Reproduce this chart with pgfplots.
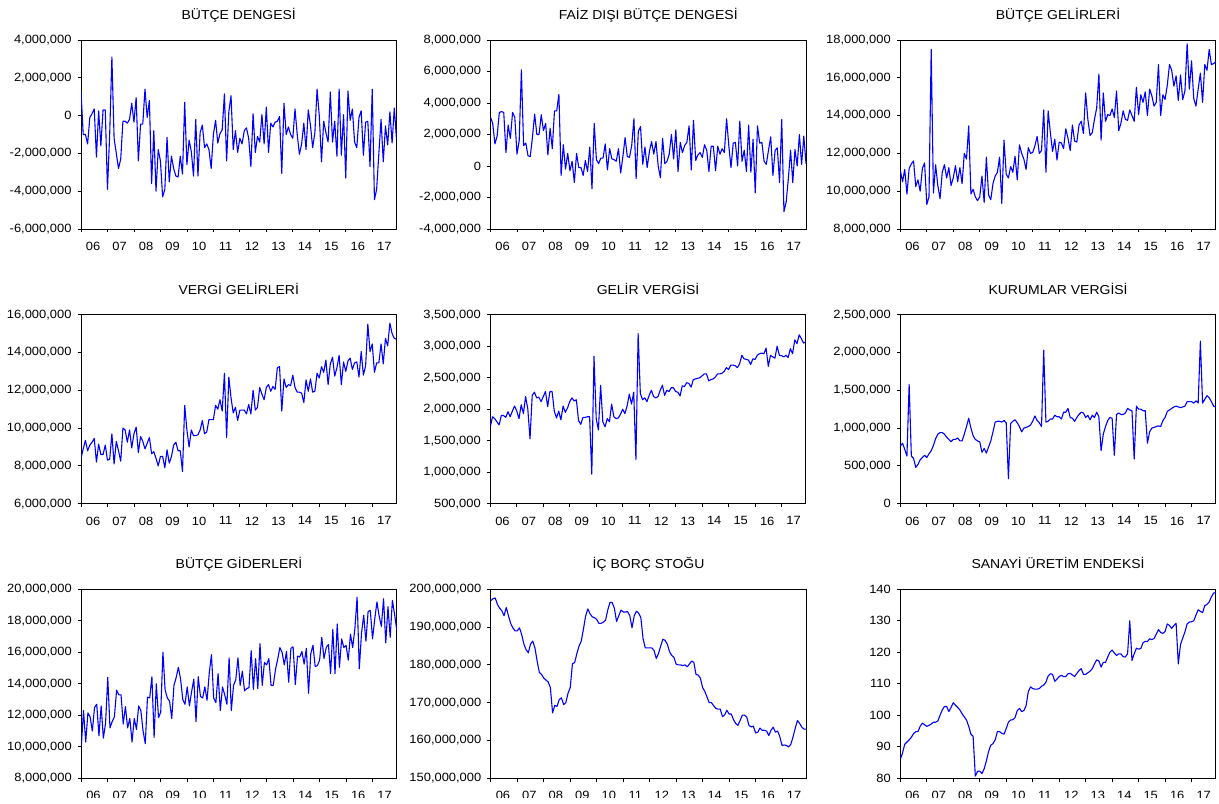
\documentclass[border=0pt]{standalone}
\usepackage{fontspec}
\setmainfont[FakeStretch=1.08]{Liberation Sans}
\usepackage{pgfplots}
\pgfplotsset{compat=1.18}
\pgfplotsset{
  ev/.style={
    scale only axis, width=315.5bp, height=189bp,
    anchor=south west,
    axis line style={line width=0.9bp, black},
    tick align=outside, tick pos=left,
    major tick length=3.5bp,
    every tick/.style={black, line width=0.8bp},
    xmin=0, xmax=143,
    xtick={0,12,24,36,48,60,72,84,96,108,120,132},
    xticklabels={},
    extra x ticks={5.5,17.5,29.5,41.5,53.5,65.5,77.5,89.5,101.5,113.5,125.5,137.5},
    extra x tick labels={06,07,08,09,10,11,12,13,14,15,16,17},
    extra x tick style={major tick length=0pt, grid=none},
    scaled y ticks=false,
    /pgf/number format/assume math mode=true,
    /pgf/number format/fixed,
    /pgf/number format/precision=0,
    /pgf/number format/1000 sep={,},
    tick label style={font=\fontsize{12}{14}\selectfont, black},
    xticklabel style={yshift=-9.5bp},
    yticklabel style={xshift=-2.5bp},
    title style={at={(0.5,1)}, anchor=base, yshift=14.7bp, font=\fontsize{13}{15}\selectfont},
    every axis plot post/.append style={blue, line width=1.1bp, mark=none, line join=round},
    clip=true,
  }
}
\begin{document}
\begin{tikzpicture}[x=1bp,y=1bp]
\useasboundingbox (0,0) rectangle (1219,804);
\clip (0,6) rectangle (1219,804);
% ---------- Row 1 ----------
\begin{axis}[ev, at={(81bp,575bp)}, title={BÜTÇE DENGESİ},
  ymin=-6000000, ymax=4000000, ytick={-6000000,-4000000,-2000000,0,2000000,4000000}]
\addplot coordinates {(0,1300000)(1,-1000000)(2,-1000000)(3,-1500000)(4,-100000)(5,100000)(6,350000)(7,-2200000)(8,250000)(9,-1600000)(10,300000)(11,300000)(12,-3900000)(13,-1000000)(14,3100000)(15,-1200000)(16,-2000000)(17,-2800000)(18,-2300000)(19,-300000)(20,-300000)(21,-400000)(22,-200000)(23,650000)(24,-350000)(25,950000)(26,-2400000)(27,-450000)(28,-450000)(29,1400000)(30,-100000)(31,800000)(32,-3600000)(33,-800000)(34,-4000000)(35,-1800000)(36,-2400000)(37,-4300000)(38,-3900000)(39,-1150000)(40,-3500000)(41,-2150000)(42,-2800000)(43,-3200000)(44,-3250000)(45,-2150000)(46,-3100000)(47,700000)(48,-2600000)(49,-1300000)(50,-1900000)(51,-3200000)(52,-200000)(53,-3200000)(54,-900000)(55,-500000)(56,-1700000)(57,-1500000)(58,-1800000)(59,-2800000)(60,-1000000)(61,-250000)(62,-1450000)(63,-950000)(64,-750000)(65,1150000)(66,-2400000)(67,200000)(68,1050000)(69,-1800000)(70,-800000)(71,-1950000)(72,-1200000)(73,-1500000)(74,-800000)(75,-650000)(76,-1200000)(77,-2700000)(78,100000)(79,-1950000)(80,-1100000)(81,-1400000)(82,50000)(83,-1500000)(84,450000)(85,-1950000)(86,-400000)(87,-600000)(88,-350000)(89,-300000)(90,-50000)(91,-3050000)(92,650000)(93,-1000000)(94,-600000)(95,-1000000)(96,-1200000)(97,350000)(98,-1000000)(99,-2050000)(100,-1500000)(101,-400000)(102,-1800000)(103,300000)(104,-500000)(105,-1700000)(106,-900000)(107,1400000)(108,0)(109,-2450000)(110,-300000)(111,-900000)(112,-1400000)(113,1250000)(114,-1400000)(115,-300000)(116,-2150000)(117,1400000)(118,-2100000)(119,50000)(120,-3300000)(121,1300000)(122,-250000)(123,350000)(124,-1400000)(125,-1700000)(126,-100000)(127,250000)(128,-2100000)(129,-350000)(130,-300000)(131,-2700000)(132,1400000)(133,-4450000)(134,-3900000)(135,-2000000)(136,-200000)(137,-2450000)(138,-550000)(139,-1550000)(140,200000)(141,-1450000)(142,400000)(143,-1250000)};
\end{axis}
\begin{axis}[ev, at={(490.5bp,575bp)}, title={FAİZ DIŞI BÜTÇE DENGESİ},
  ymin=-4000000, ymax=8000000, ytick={-4000000,-2000000,0,2000000,4000000,6000000,8000000}]
\addplot coordinates {(0,3100000)(1,2700000)(2,1400000)(3,1900000)(4,3400000)(5,3450000)(6,3400000)(7,850000)(8,2600000)(9,1750000)(10,3400000)(11,3100000)(12,750000)(13,1600000)(14,6100000)(15,1300000)(16,1450000)(17,650000)(18,600000)(19,1800000)(20,3300000)(21,2000000)(22,2000000)(23,3250000)(24,2250000)(25,2700000)(26,700000)(27,2400000)(28,1100000)(29,3500000)(30,3500000)(31,4550000)(32,-600000)(33,1350000)(34,-200000)(35,800000)(36,-300000)(37,300000)(38,-1050000)(39,800000)(40,-100000)(41,-100000)(42,-600000)(43,350000)(44,-350000)(45,1200000)(46,-1450000)(47,2700000)(48,400000)(49,150000)(50,500000)(51,500000)(52,1400000)(53,-250000)(54,1100000)(55,450000)(56,400000)(57,300000)(58,1100000)(59,-450000)(60,600000)(61,1800000)(62,600000)(63,550000)(64,1300000)(65,3000000)(66,-800000)(67,2200000)(68,2500000)(69,100000)(70,1200000)(71,-100000)(72,900000)(73,1550000)(74,750000)(75,1550000)(76,0)(77,-750000)(78,1750000)(79,150000)(80,300000)(81,750000)(82,2000000)(83,450000)(84,2300000)(85,-350000)(86,1500000)(87,850000)(88,1300000)(89,1500000)(90,2550000)(91,-250000)(92,2900000)(93,350000)(94,700000)(95,850000)(96,550000)(97,1350000)(98,1000000)(99,-350000)(100,1250000)(101,1250000)(102,-300000)(103,1250000)(104,750000)(105,1100000)(106,850000)(107,3000000)(108,1300000)(109,-100000)(110,1450000)(111,1500000)(112,0)(113,2850000)(114,300000)(115,1000000)(116,-350000)(117,2600000)(118,-400000)(119,1700000)(120,-1700000)(121,2550000)(122,1450000)(123,1500000)(124,300000)(125,100000)(126,1000000)(127,1850000)(128,-600000)(129,1000000)(130,1150000)(131,-1050000)(132,2950000)(133,-2900000)(134,-2300000)(135,-800000)(136,1000000)(137,-1050000)(138,1050000)(139,0)(140,2000000)(141,100000)(142,1900000)(143,150000)};
\end{axis}
\begin{axis}[ev, at={(900.3bp,575bp)}, title={BÜTÇE GELİRLERİ},
  ymin=8000000, ymax=18000000, ytick={8000000,10000000,12000000,14000000,16000000,18000000}]
\addplot coordinates {(0,11100000)(1,10500000)(2,11150000)(3,9850000)(4,11200000)(5,11450000)(6,11600000)(7,10250000)(8,10600000)(9,10000000)(10,11200000)(11,11500000)(12,9300000)(13,9700000)(14,17500000)(15,9900000)(16,11400000)(17,10300000)(18,9600000)(19,11000000)(20,11400000)(21,10700000)(22,11250000)(23,10300000)(24,10700000)(25,11350000)(26,10500000)(27,11250000)(28,10400000)(29,12000000)(30,11700000)(31,13450000)(32,9850000)(33,10100000)(34,9700000)(35,9500000)(36,9700000)(37,10800000)(38,9400000)(39,11800000)(40,9800000)(41,9550000)(42,10400000)(43,10800000)(44,11000000)(45,11800000)(46,9350000)(47,12700000)(48,10900000)(49,10700000)(50,11300000)(51,11000000)(52,11850000)(53,10600000)(54,12450000)(55,12000000)(56,11700000)(57,11150000)(58,12300000)(59,12000000)(60,12050000)(61,12400000)(62,12900000)(63,12000000)(64,12150000)(65,14300000)(66,11000000)(67,14250000)(68,13100000)(69,12100000)(70,12750000)(71,11650000)(72,12600000)(73,12550000)(74,12250000)(75,13300000)(76,12800000)(77,12150000)(78,13500000)(79,12650000)(80,12600000)(81,13500000)(82,13700000)(83,13050000)(84,15200000)(85,13800000)(86,12950000)(87,13100000)(88,13800000)(89,14400000)(90,16200000)(91,12700000)(92,15200000)(93,13700000)(94,14050000)(95,14000000)(96,14350000)(97,13900000)(98,15300000)(99,13200000)(100,13600000)(101,14250000)(102,13800000)(103,13750000)(104,14300000)(105,14000000)(106,13700000)(107,15500000)(108,14050000)(109,15100000)(110,14700000)(111,15250000)(112,14000000)(113,15400000)(114,15050000)(115,14500000)(116,14700000)(117,16700000)(118,14000000)(119,15100000)(120,14850000)(121,15600000)(122,16700000)(123,16400000)(124,15550000)(125,16100000)(126,14800000)(127,16150000)(128,14850000)(129,15300000)(130,17800000)(131,15400000)(132,16900000)(133,14900000)(134,14500000)(135,15400000)(136,16250000)(137,14700000)(138,16700000)(139,16400000)(140,17500000)(141,16700000)(142,16750000)(143,16850000)};
\end{axis}
% ---------- Row 2 ----------
\begin{axis}[ev, at={(81bp,300.3bp)}, title={VERGİ GELİRLERİ},
  ymin=6000000, ymax=16000000, ytick={6000000,8000000,10000000,12000000,14000000,16000000}]
\addplot coordinates {(0,8400000)(1,8900000)(2,9350000)(3,8800000)(4,9100000)(5,9250000)(6,9450000)(7,8200000)(8,9150000)(9,8600000)(10,8600000)(11,9100000)(12,8300000)(13,8350000)(14,9700000)(15,8100000)(16,9300000)(17,8800000)(18,8250000)(19,10000000)(20,9900000)(21,9250000)(22,9900000)(23,8950000)(24,9700000)(25,10050000)(26,8700000)(27,9550000)(28,9300000)(29,8900000)(30,9200000)(31,9500000)(32,8650000)(33,8750000)(34,8400000)(35,8000000)(36,8500000)(37,8500000)(38,7900000)(39,8850000)(40,8150000)(41,8500000)(42,9100000)(43,9250000)(44,8800000)(45,8800000)(46,7700000)(47,11200000)(48,9900000)(49,9000000)(50,9900000)(51,9600000)(52,9600000)(53,9650000)(54,9900000)(55,10400000)(56,9700000)(57,9800000)(58,10450000)(59,10450000)(60,10450000)(61,11200000)(62,11000000)(63,11500000)(64,10900000)(65,12900000)(66,9500000)(67,12700000)(68,11600000)(69,10800000)(70,11100000)(71,10400000)(72,10950000)(73,10950000)(74,10950000)(75,10750000)(76,11250000)(77,10750000)(78,12000000)(79,10950000)(80,11100000)(81,12150000)(82,11800000)(83,11500000)(84,12150000)(85,12300000)(86,11950000)(87,12200000)(88,12050000)(89,13200000)(90,13250000)(91,10900000)(92,12600000)(93,12150000)(94,12300000)(95,12250000)(96,12800000)(97,12150000)(98,11900000)(99,11900000)(100,11850000)(101,11350000)(102,12550000)(103,11950000)(104,12600000)(105,11900000)(106,11950000)(107,12900000)(108,12650000)(109,13250000)(110,12950000)(111,13600000)(112,12300000)(113,13400000)(114,13750000)(115,12750000)(116,13200000)(117,13850000)(118,12300000)(119,13500000)(120,13000000)(121,13550000)(122,13700000)(123,13100000)(124,13450000)(125,13500000)(126,12700000)(127,14050000)(128,12800000)(129,13300000)(130,15500000)(131,14050000)(132,14450000)(133,12950000)(134,13450000)(135,13450000)(136,14450000)(137,13400000)(138,14750000)(139,14350000)(140,15550000)(141,15000000)(142,14750000)(143,14700000)};
\end{axis}
\begin{axis}[ev, at={(490.3bp,300.3bp)}, title={GELİR VERGİSİ},
  ymin=500000, ymax=3500000, ytick={500000,1000000,1500000,2000000,2500000,3000000,3500000}]
\addplot coordinates {(0,1720000)(1,1880000)(2,1850000)(3,1800000)(4,1750000)(5,1900000)(6,1900000)(7,1870000)(8,1960000)(9,1880000)(10,1970000)(11,2050000)(12,1970000)(13,1850000)(14,2070000)(15,1930000)(16,2200000)(17,2000000)(18,1530000)(19,2220000)(20,2270000)(21,2180000)(22,2190000)(23,2120000)(24,2200000)(25,2280000)(26,2040000)(27,2280000)(28,2280000)(29,1970000)(30,1860000)(31,1970000)(32,1830000)(33,2050000)(34,1950000)(35,2020000)(36,2120000)(37,2180000)(38,2130000)(39,2150000)(40,1820000)(41,1760000)(42,1870000)(43,1870000)(44,1880000)(45,1880000)(46,970000)(47,2840000)(48,1850000)(49,1670000)(50,2380000)(51,1800000)(52,1720000)(53,1850000)(54,1800000)(55,2080000)(56,1880000)(57,1850000)(58,1860000)(59,1920000)(60,2000000)(61,1930000)(62,2050000)(63,2240000)(64,2080000)(65,2270000)(66,1200000)(67,3200000)(68,2250000)(69,2150000)(70,2180000)(71,2120000)(72,2220000)(73,2300000)(74,2200000)(75,2180000)(76,2200000)(77,2300000)(78,2380000)(79,2220000)(80,2300000)(81,2280000)(82,2340000)(83,2340000)(84,2280000)(85,2270000)(86,2210000)(87,2370000)(88,2360000)(89,2420000)(90,2410000)(91,2350000)(92,2470000)(93,2480000)(94,2490000)(95,2500000)(96,2530000)(97,2560000)(98,2560000)(99,2450000)(100,2470000)(101,2480000)(102,2510000)(103,2560000)(104,2560000)(105,2570000)(106,2600000)(107,2660000)(108,2630000)(109,2700000)(110,2700000)(111,2690000)(112,2660000)(113,2720000)(114,2855000)(115,2800000)(116,2790000)(117,2780000)(118,2710000)(119,2800000)(120,2790000)(121,2855000)(122,2880000)(123,2890000)(124,2880000)(125,2970000)(126,2680000)(127,2855000)(128,2830000)(129,2810000)(130,3000000)(131,2855000)(132,2850000)(133,2830000)(134,2855000)(135,2820000)(136,2960000)(137,2880000)(138,3100000)(139,3040000)(140,3180000)(141,3120000)(142,3050000)(143,3070000)};
\end{axis}
\begin{axis}[ev, at={(900.3bp,300.3bp)}, title={KURUMLAR VERGİSİ},
  ymin=0, ymax=2500000, ytick={0,500000,1000000,1500000,2000000,2500000}]
\addplot coordinates {(0,760000)(1,800000)(2,720000)(3,630000)(4,1580000)(5,630000)(6,600000)(7,480000)(8,520000)(9,580000)(10,610000)(11,640000)(12,610000)(13,660000)(14,700000)(15,770000)(16,860000)(17,920000)(18,940000)(19,940000)(20,920000)(21,880000)(22,850000)(23,820000)(24,850000)(25,850000)(26,870000)(27,830000)(28,830000)(29,920000)(30,1020000)(31,1130000)(32,1000000)(33,900000)(34,850000)(35,830000)(36,820000)(37,680000)(38,730000)(39,670000)(40,750000)(41,830000)(42,950000)(43,1080000)(44,1090000)(45,1090000)(46,1080000)(47,1100000)(48,1070000)(49,330000)(50,1060000)(51,1090000)(52,1110000)(53,1070000)(54,1020000)(55,950000)(56,1000000)(57,1010000)(58,1020000)(59,1040000)(60,1090000)(61,1160000)(62,1100000)(63,1070000)(64,1020000)(65,2030000)(66,1080000)(67,1090000)(68,1120000)(69,1120000)(70,1170000)(71,1150000)(72,1150000)(73,1120000)(74,1210000)(75,1210000)(76,1260000)(77,1140000)(78,1130000)(79,1090000)(80,1140000)(81,1180000)(82,1210000)(83,1200000)(84,1140000)(85,1170000)(86,1110000)(87,1170000)(88,1140000)(89,1210000)(90,1150000)(91,700000)(92,920000)(93,1020000)(94,1100000)(95,1140000)(96,1130000)(97,640000)(98,1180000)(99,1200000)(100,1180000)(101,1180000)(102,1200000)(103,1260000)(104,1240000)(105,1230000)(106,590000)(107,1290000)(108,1250000)(109,1250000)(110,1230000)(111,1230000)(112,800000)(113,950000)(114,1000000)(115,1010000)(116,1020000)(117,1030000)(118,1020000)(119,1100000)(120,1140000)(121,1220000)(122,1240000)(123,1260000)(124,1280000)(125,1290000)(126,1280000)(127,1270000)(128,1280000)(129,1290000)(130,1350000)(131,1350000)(132,1350000)(133,1330000)(134,1360000)(135,1330000)(136,2150000)(137,1330000)(138,1380000)(139,1430000)(140,1400000)(141,1350000)(142,1290000)(143,1280000)};
\end{axis}
% ---------- Row 3 ----------
\begin{axis}[ev, at={(81.3bp,25.7bp)}, title={BÜTÇE GİDERLERİ},
  ymin=8000000, ymax=20000000, ytick={8000000,10000000,12000000,14000000,16000000,18000000,20000000}]
\addplot coordinates {(0,10000000)(1,12300000)(2,10300000)(3,12150000)(4,11900000)(5,11000000)(6,12500000)(7,12700000)(8,10700000)(9,12600000)(10,10550000)(11,11500000)(12,14400000)(13,11200000)(14,11600000)(15,11900000)(16,13600000)(17,13300000)(18,13300000)(19,11450000)(20,12550000)(21,11200000)(22,11800000)(23,10300000)(24,11800000)(25,11100000)(26,12600000)(27,12300000)(28,11000000)(29,10200000)(30,13150000)(31,13100000)(32,14450000)(33,10600000)(34,14000000)(35,11850000)(36,12200000)(37,16000000)(38,13600000)(39,13100000)(40,12900000)(41,11800000)(42,13900000)(43,14400000)(44,15050000)(45,14300000)(46,13000000)(47,12700000)(48,13800000)(49,12600000)(50,13500000)(51,14300000)(52,11600000)(53,14450000)(54,13200000)(55,13100000)(56,13800000)(57,12950000)(58,14700000)(59,15850000)(60,13100000)(61,12800000)(62,14650000)(63,12300000)(64,13800000)(65,13300000)(66,12700000)(67,15650000)(68,12300000)(69,13900000)(70,14250000)(71,15650000)(72,13900000)(73,14800000)(74,13550000)(75,13700000)(76,13750000)(77,16100000)(78,13650000)(79,15600000)(80,13700000)(81,16550000)(82,13900000)(83,15350000)(84,15200000)(85,15600000)(86,13900000)(87,13900000)(88,14900000)(89,15550000)(90,16300000)(91,16000000)(92,15200000)(93,16050000)(94,14100000)(95,16250000)(96,16350000)(97,13950000)(98,15750000)(99,15700000)(100,16050000)(101,15250000)(102,16250000)(103,13400000)(104,15900000)(105,16450000)(106,15100000)(107,15150000)(108,15500000)(109,16950000)(110,15600000)(111,16300000)(112,16500000)(113,14650000)(114,17450000)(115,14650000)(116,17800000)(117,15050000)(118,16850000)(119,16300000)(120,16450000)(121,15500000)(122,17150000)(123,16300000)(124,17500000)(125,19500000)(126,14950000)(127,17200000)(128,18350000)(129,16700000)(130,18600000)(131,18650000)(132,16850000)(133,18100000)(134,19200000)(135,18300000)(136,17650000)(137,19400000)(138,16600000)(139,18900000)(140,16950000)(141,19300000)(142,18400000)(143,17400000)};
\end{axis}
\begin{axis}[ev, at={(490.8bp,25.7bp)}, title={İÇ BORÇ STOĞU},
  ymin=150000000, ymax=200000000, ytick={150000000,160000000,170000000,180000000,190000000,200000000}]
\addplot coordinates {(0,197000000)(1,197500000)(2,197700000)(3,196000000)(4,195000000)(5,194300000)(6,193000000)(7,195200000)(8,193000000)(9,191000000)(10,189800000)(11,189000000)(12,189000000)(13,189800000)(14,188000000)(15,185500000)(16,184000000)(17,183200000)(18,185500000)(19,186300000)(20,184500000)(21,181000000)(22,178000000)(23,177500000)(24,176500000)(25,176000000)(26,175500000)(27,174000000)(28,167300000)(29,169300000)(30,169000000)(31,170800000)(32,171300000)(33,169500000)(34,170000000)(35,172500000)(36,174000000)(37,180300000)(38,180600000)(39,183000000)(40,185000000)(41,186300000)(42,189500000)(43,193000000)(44,194800000)(45,193500000)(46,192700000)(47,192500000)(48,192000000)(49,191000000)(50,191000000)(51,191300000)(52,191800000)(53,194500000)(54,196500000)(55,196500000)(56,195000000)(57,191500000)(58,193000000)(59,194500000)(60,194000000)(61,194000000)(62,194100000)(63,193000000)(64,189800000)(65,193000000)(66,194200000)(67,193700000)(68,192500000)(69,187000000)(70,184500000)(71,184500000)(72,184500000)(73,184500000)(74,183800000)(75,181700000)(76,183000000)(77,185000000)(78,186800000)(79,186500000)(80,185500000)(81,183500000)(82,182500000)(83,182000000)(84,180200000)(85,180000000)(86,180000000)(87,179800000)(88,180000000)(89,179500000)(90,180200000)(91,181000000)(92,180700000)(93,177500000)(94,177300000)(95,176500000)(96,174000000)(97,173000000)(98,171500000)(99,170000000)(100,170000000)(101,169200000)(102,168500000)(103,168300000)(104,168300000)(105,166300000)(106,166800000)(107,168000000)(108,167000000)(109,167000000)(110,165500000)(111,164500000)(112,164000000)(113,165300000)(114,166700000)(115,166700000)(116,166200000)(117,164000000)(118,163600000)(119,163800000)(120,162000000)(121,162200000)(122,163300000)(123,162700000)(124,162700000)(125,162500000)(126,161300000)(127,162700000)(128,163500000)(129,162200000)(130,162500000)(131,161000000)(132,158700000)(133,158800000)(134,158700000)(135,158300000)(136,159000000)(137,161000000)(138,163300000)(139,165300000)(140,164500000)(141,163500000)(142,163000000)(143,163000000)};
\end{axis}
\begin{axis}[ev, at={(900.3bp,25.7bp)}, title={SANAYİ ÜRETİM ENDEKSİ},
  ymin=80, ymax=140, ytick={80,90,100,110,120,130,140}]
\addplot coordinates {(0,86)(1,88)(2,90.8)(3,91.5)(4,92.2)(5,93)(6,94.2)(7,94.8)(8,94.8)(9,96.5)(10,97.5)(11,97)(12,96.5)(13,96.8)(14,97.2)(15,97.8)(16,97.8)(17,98.2)(18,100)(19,101.7)(20,102.8)(21,102.8)(22,101.2)(23,102.5)(24,104)(25,103.2)(26,102.5)(27,101.7)(28,100.5)(29,99.5)(30,98.5)(31,96.5)(32,94)(33,93.3)(34,80.7)(35,82.2)(36,82.3)(37,81.5)(38,83)(39,85.5)(40,88.5)(41,90.5)(42,91)(43,92.2)(44,94.8)(45,94.8)(46,94.3)(47,94)(48,95.8)(49,97.8)(50,98.5)(51,98.6)(52,99.3)(53,101.5)(54,102.2)(55,101.2)(56,101.5)(57,103)(58,107.5)(59,109)(60,108.5)(61,108.3)(62,108.3)(63,108.5)(64,109.2)(65,109.6)(66,110.5)(67,112.5)(68,113.2)(69,113)(70,110.8)(71,111.5)(72,112.3)(73,112.7)(74,112.3)(75,112.3)(76,113.2)(77,113.3)(78,112.8)(79,112.3)(80,113.3)(81,114.2)(82,114.8)(83,113)(84,113)(85,113.5)(86,114)(87,114.8)(88,116.3)(89,117.6)(90,117.3)(91,115.3)(92,116.8)(93,116.8)(94,118.5)(95,120)(96,120.7)(97,119.8)(98,119)(99,119.5)(100,119.5)(101,118.6)(102,118.5)(103,119.5)(104,130)(105,117.4)(106,119.5)(107,121.3)(108,121)(109,121.2)(110,123)(111,123.5)(112,123.4)(113,124.3)(114,124)(115,124.4)(116,125.8)(117,127.2)(118,126.3)(119,126)(120,126.6)(121,129)(122,128.5)(123,127.6)(124,128.5)(125,129.2)(126,116.3)(127,122.5)(128,124.5)(129,126.5)(130,129)(131,129.6)(132,129.7)(133,130)(134,131.8)(135,133.5)(136,133)(137,132.6)(138,134.8)(139,135.2)(140,136)(141,137.6)(142,138.8)(143,139)};
\end{axis}
\end{tikzpicture}
\end{document}
